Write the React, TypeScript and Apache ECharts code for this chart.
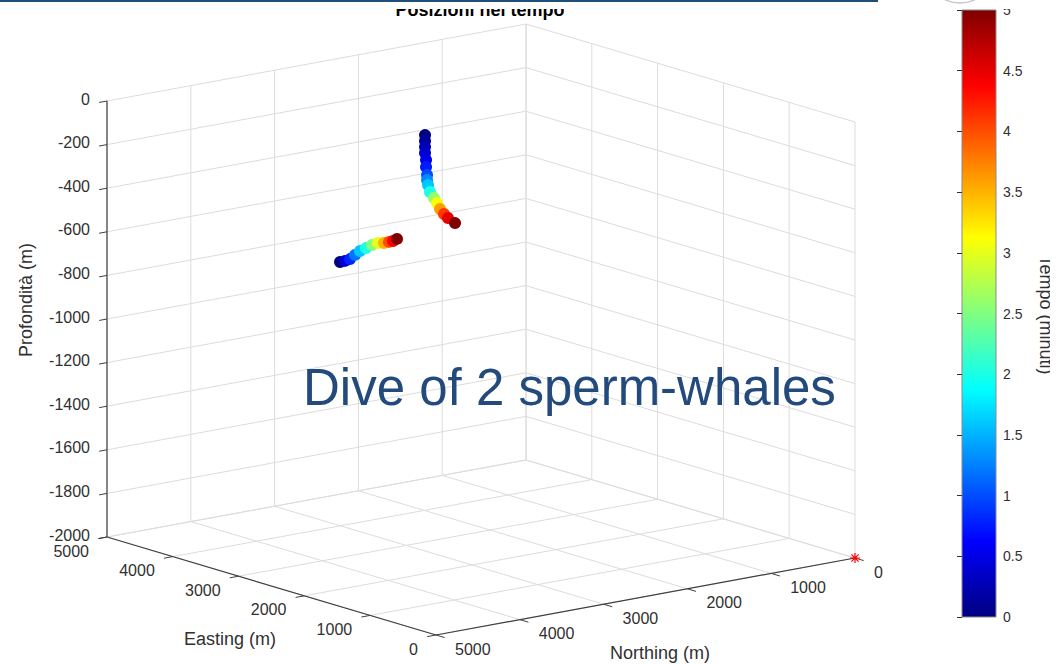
import React, { useEffect, useRef } from "react";
import * as echarts from "echarts";

// ---------- DATA ----------
const eastingTicks = [0, 1000, 2000, 3000, 4000, 5000];
const northingTicks = [0, 1000, 2000, 3000, 4000, 5000];
const depthTicks = [0, -200, -400, -600, -800, -1000, -1200, -1400, -1600, -1800, -2000];
const timeRange = [0, 5];

// whale A (near-vertical dive)
const whaleAEasting = [2500, 2500, 2500, 2500, 2500, 2500, 2500, 2500, 2500, 2500, 2500, 2500, 2500, 2500, 2500, 2500];
const whaleANorthing = [3168, 3168, 3168, 3168, 3156, 3156, 3144, 3144, 3132, 3109, 3061, 3025, 2989, 2942, 2894, 2810];
const whaleADepth = [-61, -88, -116, -143, -176, -208, -246, -269, -293, -326, -357, -383, -413, -439, -461, -490];
const whaleATime = [0, 0.12, 0.25, 0.38, 0.5, 0.75, 1.0, 1.3, 1.6, 2.0, 2.6, 3.1, 3.6, 4.1, 4.5, 5.0];

// whale B (horizontal track at depth)
const whaleBEasting = [3500, 3500, 3500, 3500, 3500, 3500, 3500, 3500, 3500, 3500, 3500, 3500];
const whaleBNorthing = [3397, 3338, 3278, 3218, 3159, 3087, 3016, 2944, 2872, 2813, 2765, 2717];
const whaleBDepth = [-717, -716, -712, -697, -683, -675, -666, -662, -667, -666, -665, -659];
const whaleBTime = [0, 0.4, 0.8, 1.2, 1.6, 2.0, 2.5, 3.0, 3.5, 4.0, 4.4, 5.0];

// receiver (red asterisk)
const receiverEasting = [0];
const receiverNorthing = [0];
const receiverDepth = [-2000];

// ---------- LAYOUT (projection of the 3D box) ----------
const W = 1058;
const H = 664;
const E_MIN = 0, E_MAX = 5000, N_MIN = 0, N_MAX = 5000, Z_MIN = -2000, Z_MAX = 0;
const BOX_ORIGIN = [855, 558]; // E=0, N=0, Z=-2000
const E_VEC = [-329, -98];
const N_VEC = [-419, 77];
const Z_VEC = [0, -436];

function proj(e: number, n: number, z: number): [number, number] {
  const fe = (e - E_MIN) / (E_MAX - E_MIN);
  const fn = (n - N_MIN) / (N_MAX - N_MIN);
  const fz = (z - Z_MIN) / (Z_MAX - Z_MIN);
  return [
    BOX_ORIGIN[0] + fe * E_VEC[0] + fn * N_VEC[0] + fz * Z_VEC[0],
    BOX_ORIGIN[1] + fe * E_VEC[1] + fn * N_VEC[1] + fz * Z_VEC[1],
  ];
}
function unit(v: number[]) {
  const l = Math.hypot(v[0], v[1]);
  return [v[0] / l, v[1] / l];
}

const FONT = "'Liberation Sans', Arial, Helvetica, sans-serif";
const TXT = "#303030";
const GRID_C = "#dcdcdc";
const AXIS_C = "#404040";

const jet = ["#000080", "#0000ff", "#0080ff", "#00ffff", "#80ff80", "#ffff00", "#ff8000", "#ff0000", "#800000"];

export default function App() {
  const ref = useRef<HTMLDivElement>(null);
  useEffect(() => {
    document.body.style.margin = "0";
    const chart = echarts.init(ref.current!, null, { renderer: "svg" });

    // segments: [E1,N1,Z1,E2,N2,Z2,style]
    const segs: number[][] = [];
    eastingTicks.forEach((e) => segs.push([e, N_MIN, Z_MIN, e, N_MAX, Z_MIN, 0]));
    northingTicks.forEach((n) => segs.push([E_MIN, n, Z_MIN, E_MAX, n, Z_MIN, 0]));
    depthTicks.forEach((z) => segs.push([E_MAX, N_MIN, z, E_MAX, N_MAX, z, 0]));
    northingTicks.forEach((n) => segs.push([E_MAX, n, Z_MIN, E_MAX, n, Z_MAX, 0]));
    depthTicks.forEach((z) => segs.push([E_MIN, N_MIN, z, E_MAX, N_MIN, z, 0]));
    eastingTicks.forEach((e) => segs.push([e, N_MIN, Z_MIN, e, N_MIN, Z_MAX, 0]));
    segs.push([E_MIN, N_MAX, Z_MIN, E_MAX, N_MAX, Z_MIN, 1]);
    segs.push([E_MIN, N_MIN, Z_MIN, E_MIN, N_MAX, Z_MIN, 1]);
    segs.push([E_MAX, N_MAX, Z_MIN, E_MAX, N_MAX, Z_MAX, 1]);

    // ticks: [axis, value]  axis 0=E, 1=N, 2=Z
    const ticks: number[][] = [];
    eastingTicks.forEach((e) => ticks.push([0, e]));
    northingTicks.forEach((n) => ticks.push([1, n]));
    depthTicks.forEach((z) => ticks.push([2, z]));

    const uN = unit(N_VEC);
    const uE = unit(E_VEC);

    const tickAnchor = (axis: number, v: number) =>
      axis === 0 ? proj(v, N_MAX, Z_MIN) : axis === 1 ? proj(E_MIN, v, Z_MIN) : proj(E_MAX, N_MAX, v);

    const whaleA = whaleATime.map((t, i) => [...proj(whaleAEasting[i], whaleANorthing[i], whaleADepth[i]), t]);
    const whaleB = whaleBTime.map((t, i) => [...proj(whaleBEasting[i], whaleBNorthing[i], whaleBDepth[i]), t]);
    const receiver = receiverEasting.map((e, i) => proj(e, receiverNorthing[i], receiverDepth[i]));

    const option: any = {
      animation: false,
      backgroundColor: "#ffffff",
      grid: [
        { left: 0, top: 0, width: W, height: H, show: false },
        {
          left: 962, top: 10, width: 34, height: 607, show: true,
          borderColor: "#8a8a8a", borderWidth: 1,
          backgroundColor: new echarts.graphic.LinearGradient(0, 1, 0, 0,
            jet.map((c, i) => ({ offset: i / (jet.length - 1), color: c }))),
        },
      ],
      xAxis: [
        { type: "value", min: 0, max: W, show: false, gridIndex: 0 },
        { type: "value", min: 0, max: 1, show: false, gridIndex: 1 },
      ],
      yAxis: [
        { type: "value", min: 0, max: H, inverse: true, show: false, gridIndex: 0 },
        {
          type: "value", gridIndex: 1, min: timeRange[0], max: timeRange[1], interval: 0.5, position: "right",
          axisLine: { show: false },
          splitLine: { show: false },
          axisTick: { show: true, inside: true, length: 5, lineStyle: { color: "#333", width: 1 } },
          axisLabel: { color: TXT, fontSize: 14, fontFamily: FONT, margin: 7 },
        },
      ],
      visualMap: {
        type: "continuous", show: false, min: timeRange[0], max: timeRange[1], dimension: 2,
        seriesIndex: [3, 4], inRange: { color: jet },
      },
      series: [
        {
          type: "custom", xAxisIndex: 0, yAxisIndex: 0, z: 1, silent: true,
          data: segs,
          renderItem: (_p: any, api: any) => {
            const a = api.coord(proj(api.value(0), api.value(1), api.value(2)));
            const b = api.coord(proj(api.value(3), api.value(4), api.value(5)));
            const axis = api.value(6) === 1;
            return {
              type: "line", z2: axis ? 5 : 1,
              shape: { x1: a[0], y1: a[1], x2: b[0], y2: b[1] },
              style: { stroke: axis ? AXIS_C : GRID_C, lineWidth: axis ? 1.2 : 1 },
            };
          },
        },
        {
          type: "custom", xAxisIndex: 0, yAxisIndex: 0, z: 2, silent: true,
          data: ticks,
          renderItem: (_p: any, api: any) => {
            const axis = api.value(0);
            const v = api.value(1);
            const p = api.coord(tickAnchor(axis, v));
            const d = axis === 1 ? [-uE[0], -uE[1]] : uN;
            const len = axis === 2 ? 8 : 9;
            let label: any;
            if (axis === 0) {
              label = { x: p[0] - 18, y: p[1] + 14, align: "right" };
            } else if (axis === 1) {
              label = { x: p[0] + 19, y: p[1] + 14, align: "left" };
            } else {
              label = { x: p[0] - 17, y: p[1] - 2, align: "right" };
            }
            return {
              type: "group",
              children: [
                {
                  type: "line",
                  shape: { x1: p[0], y1: p[1], x2: p[0] + d[0] * len, y2: p[1] + d[1] * len },
                  style: { stroke: AXIS_C, lineWidth: 1 },
                },
                {
                  type: "text", x: label.x, y: label.y,
                  style: {
                    text: String(v), fill: TXT, font: `16px ${FONT}`, lineHeight: 15,
                    align: label.align, verticalAlign: "middle",
                  },
                },
              ],
            };
          },
        },
        {
          type: "scatter", xAxisIndex: 0, yAxisIndex: 0, z: 4, silent: true,
          data: receiver, symbol: "path://M0,-5L0,5M-5,0L5,0M-3.6,-3.6L3.6,3.6M-3.6,3.6L3.6,-3.6",
          symbolSize: 10,
          itemStyle: { color: "rgba(0,0,0,0)", borderColor: "#ff0000", borderWidth: 1.2, opacity: 1 },
        },
        {
          type: "scatter", xAxisIndex: 0, yAxisIndex: 0, z: 3, silent: true,
          data: whaleA, symbol: "circle", symbolSize: 12, itemStyle: { opacity: 1 },
        },
        {
          type: "scatter", xAxisIndex: 0, yAxisIndex: 0, z: 3, silent: true,
          data: whaleB, symbol: "circle", symbolSize: 12, itemStyle: { opacity: 1 },
        },
      ],
      graphic: [
        {
          type: "text", x: 480, y: 9.5, z: 80,
          style: { text: "Posizioni nel tempo", font: `bold 18px ${FONT}`, fill: "#000", align: "center", verticalAlign: "middle" },
        },
        { type: "rect", z: 90, shape: { x: 0, y: 0, width: W, height: 9 }, style: { fill: "#fff" } },
        { type: "rect", z: 90, shape: { x: 1050, y: 0, width: 8, height: H }, style: { fill: "#fff" } },
        { type: "rect", z: 91, shape: { x: 0, y: 0, width: 878, height: 2 }, style: { fill: "#1f4e79" } },
        { type: "ellipse", z: 91, shape: { cx: 960, cy: -5, rx: 18, ry: 8 }, style: { fill: "#fff", stroke: "#c8c8c8", lineWidth: 1.5 } },
        {
          type: "text", x: 26, y: 300, rotation: Math.PI / 2, z: 80,
          style: { text: "Profondità (m)", font: `18px ${FONT}`, fill: TXT, align: "center", verticalAlign: "middle" },
        },
        {
          type: "text", x: 230, y: 639, z: 80,
          style: { text: "Easting (m)", font: `18px ${FONT}`, fill: TXT, align: "center", verticalAlign: "middle" },
        },
        {
          type: "text", x: 660, y: 653, z: 80,
          style: { text: "Northing (m)", font: `18px ${FONT}`, fill: TXT, align: "center", verticalAlign: "middle" },
        },
        {
          type: "text", x: 1046, y: 315, rotation: -Math.PI / 2, z: 80,
          style: { text: "Tempo (minuti)", font: `18px ${FONT}`, fill: TXT, align: "center", verticalAlign: "middle" },
        },
        {
          type: "text", x: 303, y: 387, z: 100,
          style: { text: "Dive of 2 sperm-whales", font: `51px ${FONT}`, fill: "#234a7d", align: "left", verticalAlign: "middle" },
        },
      ],
    };
    chart.setOption(option);
    return () => chart.dispose();
  }, []);
  return <div ref={ref} style={{ width: W, height: H }} />;
}
